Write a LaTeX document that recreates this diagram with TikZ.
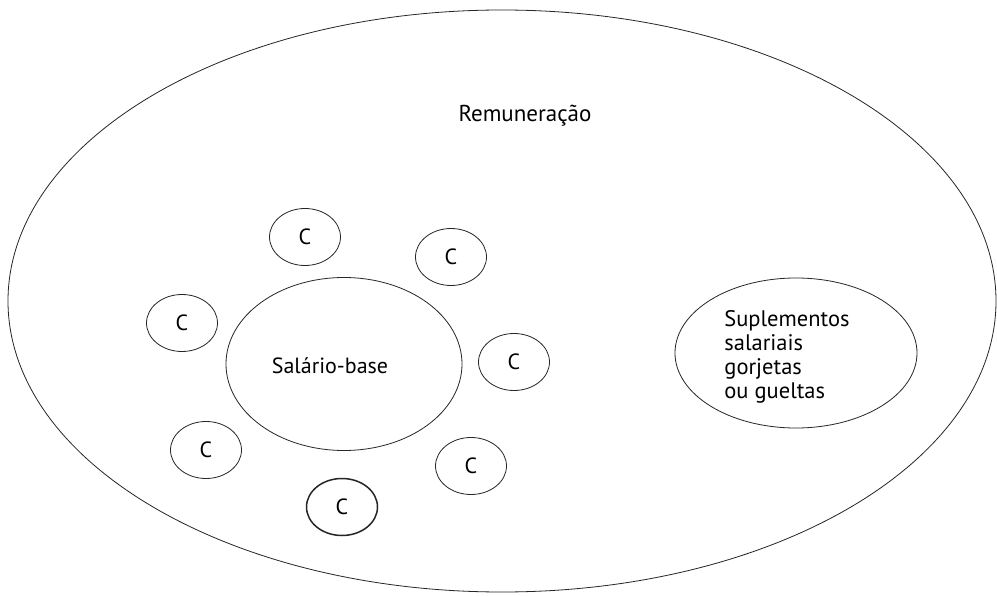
\documentclass[tikz,border=0pt]{standalone}
\usepackage{fontspec}
\setmainfont{PT Sans}
\usetikzlibrary{shapes.geometric}
\tikzset{
  oval/.style={draw=black!85, line width=0.8pt, ellipse, inner sep=0pt},
  cnode/.style={oval, minimum width=71pt, minimum height=57pt, font=\fontsize{22}{24}\selectfont},
  lbl/.style={font=\fontsize{22}{24}\selectfont, inner sep=0pt}
}
\begin{document}
\begin{tikzpicture}[x=1pt,y=-1pt]
\useasboundingbox (0,0) rectangle (997,596);
\fill[white] (0,0) rectangle (997,596);
\node[oval, minimum width=988pt, minimum height=582pt] (rem) at (502,301) {};
\node[lbl, font=\fontsize{23}{24}\selectfont] (remt) at (525,116) {Remuneração};
\node[oval, minimum width=236pt, minimum height=173pt] (sal) at (344,364) {};
\node[lbl] (salt) at (330,366) {Salário-base};
\node[oval, minimum width=242pt, minimum height=150pt] (sup) at (796,353) {};
\node[lbl, align=left, font=\fontsize{22.5}{24}\selectfont] (supt) at (787,357) {Suplementos\\salariais\\gorjetas\\ou gueltas};
\node[cnode] (c1) at (305,237) {C};
\node[cnode] (c2) at (451,257) {C};
\node[cnode] (c3) at (182,323) {C};
\node[cnode] (c4) at (514,362) {C};
\node[cnode] (c5) at (206,450) {C};
\node[cnode] (c6) at (471,466) {C};
\node[cnode, line width=1.5pt] (c7) at (342,507) {C};
\end{tikzpicture}
\end{document}
